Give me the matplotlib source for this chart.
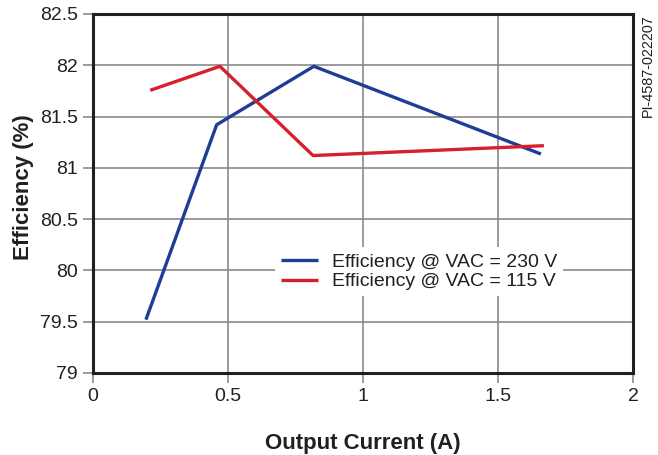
import matplotlib
matplotlib.use("Agg")
import matplotlib.pyplot as plt

plt.rcParams['font.family'] = ['Liberation Sans', 'DejaVu Sans']

current_230 = [0.196, 0.458, 0.818, 1.659]
eff_230 = [79.52, 81.42, 81.99, 81.135]
current_115 = [0.212, 0.470, 0.815, 1.670]
eff_115 = [81.756, 81.99, 81.12, 81.216]

label_230 = "Efficiency @ VAC = 230 V"
label_115 = "Efficiency @ VAC = 115 V"

x_ticks = [0, 0.5, 1, 1.5, 2]
x_tick_labels = ["0", "0.5", "1", "1.5", "2"]
y_ticks = [79, 79.5, 80, 80.5, 81, 81.5, 82, 82.5]
y_tick_labels = ["79", "79.5", "80", "80.5", "81", "81.5", "82", "82.5"]

fig = plt.figure(figsize=(6.58, 4.55), dpi=100)
ax = fig.add_axes([93/658, 1-373/455, 540/658, 359/455])

ax.plot(current_230, eff_230, color='#1f3d94', lw=2.4, label=label_230, solid_capstyle='butt', zorder=3)
ax.plot(current_115, eff_115, color='#d81f2c', lw=2.4, label=label_115, solid_capstyle='butt', zorder=3)

ax.set_xlim(0, 2)
ax.set_ylim(79, 82.5)
ax.set_xticks(x_ticks)
ax.set_xticklabels(x_tick_labels)
ax.set_yticks(y_ticks)
ax.set_yticklabels(y_tick_labels)
ax.grid(True, color='#8a8a8a', lw=1.2)
ax.set_axisbelow(True)
ax.tick_params(axis='both', direction='out', length=7, width=1.2, color='#8a8a8a',
               labelsize=14, labelcolor='#231f20', pad=4)
for s in ax.spines.values():
    s.set_linewidth(2.2)
    s.set_color('#231f20')

ax.set_xlabel("Output Current (A)", fontsize=16, fontweight='bold', color='#231f20')
ax.set_ylabel("Efficiency (%)", fontsize=16, fontweight='bold', color='#231f20')
ax.xaxis.set_label_coords(0.5, (373 - 433) / 359)
ax.yaxis.set_label_coords((34 - 93) / 540, (373 - 187) / 359)

leg = ax.legend(loc='center', bbox_to_anchor=(0.604, 0.282), fontsize=14,
                frameon=True, fancybox=False, edgecolor='none', facecolor='white', framealpha=1,
                handlelength=1.9, handletextpad=0.75, labelspacing=0.1, borderpad=0.3)
for t in leg.get_texts():
    t.set_color('#231f20')

fig.text(648/658, 1-14/455, "PI-4587-022207", rotation=90, fontsize=10.4,
         ha='center', va='top', color='#231f20')

fig.savefig("out.png", dpi=100)
